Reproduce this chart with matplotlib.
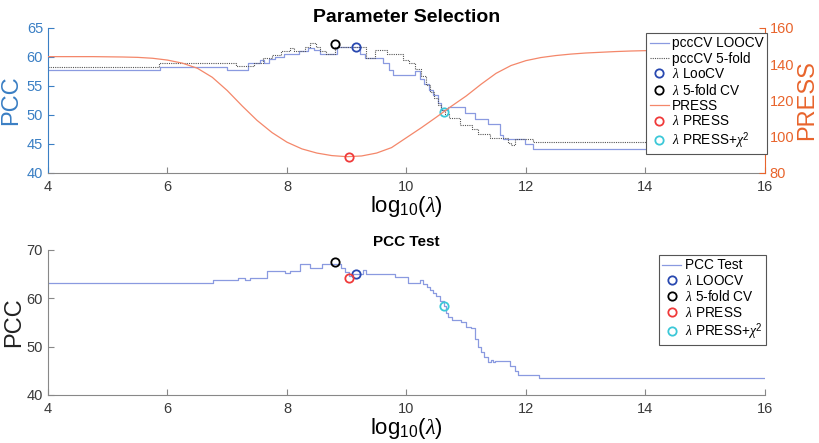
import matplotlib
matplotlib.use("Agg")
from matplotlib import pyplot as plt

plt.rcParams['font.family'] = ['Liberation Sans', 'DejaVu Sans']
plt.rcParams['mathtext.fontset'] = 'custom'
plt.rcParams['mathtext.rm'] = 'Liberation Sans'
plt.rcParams['mathtext.it'] = 'Liberation Serif:italic'
plt.rcParams['mathtext.bf'] = 'Liberation Sans:bold'

# top panel: cross-validated PCC (step curves, x = log10(lambda) where level changes)
loo_x = [4.0, 5.87, 7.0, 7.35, 7.55, 7.62, 7.7, 7.8, 7.95, 8.1, 8.2, 8.35, 8.45, 8.55,
         8.83, 9.22, 9.3, 9.6, 9.7, 9.78, 10.15, 10.22, 10.3, 10.38, 10.45, 10.52, 10.58,
         10.7, 10.98, 11.15, 11.36, 11.56, 11.62, 11.98, 12.12, 16.0]
loo_y = [57.8, 58.3, 57.8, 59.0, 59.4, 59.0, 59.6, 60.0, 60.6, 60.6, 61.0, 61.6, 61.2, 60.6,
         61.7, 60.6, 59.8, 59.0, 57.8, 56.9, 57.5, 56.2, 55.3, 54.3, 53.5, 52.0, 50.8,
         51.3, 50.4, 49.3, 48.4, 46.6, 45.8, 45.0, 44.2, 44.2]

kf_x = [4.0, 5.85, 7.15, 7.45, 7.6, 7.75, 7.9, 8.05, 8.12, 8.3, 8.38, 8.48, 8.55, 8.65,
        8.8, 9.33, 9.47, 9.67, 9.94, 10.05, 10.15, 10.25, 10.32, 10.4, 10.46, 10.52, 10.58,
        10.65, 10.72, 10.9, 11.1, 11.2, 11.4, 11.7, 11.75, 11.82, 12.12, 16.0]
kf_y = [58.3, 59.0, 58.4, 59.0, 59.8, 60.3, 61.0, 61.5, 61.0, 61.8, 62.4, 61.8, 61.0, 60.6,
        61.8, 59.9, 61.2, 60.5, 59.5, 59.0, 58.0, 56.8, 55.2, 54.0, 52.9, 51.8, 50.9,
        50.2, 49.4, 48.3, 47.5, 46.8, 46.0, 45.1, 44.8, 45.8, 45.4, 45.4]

# PRESS curve read every 0.25
press_x = [4.0 + 0.25 * i for i in range(49)]
press_y = [144.2, 144.2, 144.2, 144.2, 144.1, 144.0, 143.8, 143.3, 142.3, 140.6, 137.8,
           132.8, 125.5, 117.0, 109.0, 102.3, 97.0, 93.3, 91.0, 89.6, 89.0, 89.4, 91.0,
           94.0, 99.5, 105.0, 110.8, 116.8, 122.5, 129.0, 135.0, 139.3, 142.0, 143.7,
           144.8, 145.6, 146.2, 146.6, 147.0, 147.3, 147.5, 147.6, 147.7, 147.8, 147.9,
           148.0, 148.0, 148.0, 148.0]

# selected lambdas
lam_loo, pcc_loo = 9.15, 61.7
lam_kf, pcc_kf = 8.8, 62.3
lam_press, press_min = 9.04, 89.0
lam_chi, pcc_chi = 10.62, 50.6

# bottom panel: PCC on test set
test_x = [4.0, 6.77, 7.18, 7.3, 7.38, 7.66, 7.97, 8.05, 8.22, 8.38, 8.58, 8.9, 8.97, 9.03,
          9.1, 9.28, 9.33, 9.8, 10.02, 10.23, 10.28, 10.34, 10.4, 10.45, 10.5, 10.56, 10.62,
          10.66, 10.7, 10.76, 10.92, 11.0, 11.08, 11.15, 11.2, 11.25, 11.3, 11.37, 11.42,
          11.45, 11.48, 11.73, 11.82, 11.87, 12.22, 16.0]
test_y = [63.1, 63.7, 64.2, 63.7, 64.2, 65.7, 65.2, 65.7, 67.0, 66.3, 67.0, 66.2, 65.5, 64.6,
          65.0, 65.8, 65.1, 64.5, 63.2, 63.8, 63.0, 62.4, 61.8, 61.2, 60.5, 59.5, 58.5,
          57.0, 56.2, 55.5, 55.2, 54.1, 53.8, 51.5, 50.0, 48.8, 47.8, 46.8, 47.2,
          46.8, 47.0, 46.0, 45.0, 44.1, 43.5, 43.5]
test_marks = {'loo': (9.15, 65.0), 'kf': (8.8, 67.6), 'press': (9.04, 64.3), 'chi': (10.62, 58.5)}

c_blue_axis = '#3a7fc4'
c_orange_axis = '#e8642c'
c_line = '#8a9ae0'
c_press = '#f4876a'
c_m_blue = '#2848b0'
c_m_red = '#f03a3a'
c_m_cyan = '#3cc8d8'
c_gray = '#3a3a3a'
lam = r'$\lambda$'
mk = dict(mfc='none', ms=6, mew=1.3, ls='none', marker='o')
leg_kw = dict(loc='upper right', fontsize=9.8, handlelength=1.4, handletextpad=0.25,
              labelspacing=0.1, borderpad=0.25, borderaxespad=0, fancybox=False,
              framealpha=1, edgecolor='#555555')

fig = plt.figure(figsize=(8.2, 4.43), dpi=100)
ax1 = fig.add_axes([0.0585, 0.6095, 0.8744, 0.3273])
ax2 = ax1.twinx()

h1, = ax1.step(loo_x, loo_y, where='post', color=c_line, lw=0.9, label='pccCV LOOCV')
h2, = ax1.step(kf_x, kf_y, where='post', color='#555555', lw=0.8, ls=(0, (1, 1)),
               label='pccCV 5-fold')
h3, = ax1.plot(lam_loo, pcc_loo, mec=c_m_blue, label=lam + ' LooCV', **mk)
h4, = ax1.plot(lam_kf, pcc_kf, mec='black', label=lam + ' 5-fold CV', **mk)
h5, = ax2.plot(press_x, press_y, color=c_press, lw=0.9, label='PRESS')
h6, = ax2.plot(lam_press, press_min, mec=c_m_red, label=lam + ' PRESS', **mk)
h7, = ax1.plot(lam_chi, pcc_chi, mec=c_m_cyan, label=lam + r' PRESS+$\chi^2$', **mk)

ax1.set_xlim(4, 16)
ax1.set_ylim(40, 65)
ax2.set_ylim(80, 160)
ax1.set_xticks(range(4, 17, 2))
ax1.set_yticks(range(40, 66, 5))
ax2.set_yticks(range(80, 161, 20))
for ax in (ax1, ax2):
    ax.spines['top'].set_visible(False)
    ax.tick_params(direction='in', length=4, width=0.8, labelsize=10.5)
ax1.spines['left'].set_color(c_blue_axis)
ax1.spines['right'].set_visible(False)
ax2.spines['left'].set_visible(False)
ax2.spines['right'].set_color(c_orange_axis)
ax1.spines['bottom'].set_color('#888888')
ax2.spines['bottom'].set_visible(False)
ax1.tick_params(axis='y', colors=c_blue_axis)
ax1.tick_params(axis='x', colors='#888888', labelcolor=c_gray, pad=5)
ax2.tick_params(axis='y', colors=c_orange_axis)
ax1.set_ylabel('PCC', color=c_blue_axis, fontsize=17, labelpad=3)
ax2.set_ylabel('PRESS', color=c_orange_axis, fontsize=17, labelpad=1)
ax1.set_xlabel(r'log$_{10}$($\lambda$)', fontsize=16, labelpad=0)
ax1.set_title('Parameter Selection', fontsize=14, fontweight='bold', pad=4)
leg = ax2.legend(handles=[h1, h2, h3, h4, h5, h6, h7], bbox_to_anchor=(1.003, 0.965),
                 **leg_kw)
leg.get_frame().set_linewidth(0.8)

ax3 = fig.add_axes([0.0585, 0.1084, 0.8744, 0.3273])
g1, = ax3.step(test_x, test_y, where='post', color=c_line, lw=0.9, label='PCC Test')
g2, = ax3.plot(*test_marks['loo'], mec=c_m_blue, label=lam + ' LOOCV', **mk)
g3, = ax3.plot(*test_marks['kf'], mec='black', label=lam + ' 5-fold CV', **mk)
g4, = ax3.plot(*test_marks['press'], mec=c_m_red, label=lam + ' PRESS', **mk)
g5, = ax3.plot(*test_marks['chi'], mec=c_m_cyan, label=lam + r' PRESS+$\chi^2$', **mk)
ax3.set_xlim(4, 16)
ax3.set_ylim(40, 70)
ax3.set_xticks(range(4, 17, 2))
ax3.set_yticks(range(40, 71, 10))
ax3.spines['top'].set_visible(False)
ax3.spines['right'].set_visible(False)
for s in ('left', 'bottom'):
    ax3.spines[s].set_color('#888888')
ax3.tick_params(direction='in', length=4, width=0.8, labelsize=10.5, colors='#888888',
                labelcolor=c_gray)
ax3.tick_params(axis='x', pad=5)
ax3.set_ylabel('PCC', fontsize=17, color='#222222', labelpad=1)
ax3.set_xlabel(r'log$_{10}$($\lambda$)', fontsize=16, labelpad=0)
ax3.set_title('PCC Test', fontsize=11, fontweight='bold', pad=3)
leg2 = ax3.legend(handles=[g1, g2, g3, g4, g5], bbox_to_anchor=(1.001, 0.965), **leg_kw)
leg2.get_frame().set_linewidth(0.8)

fig.savefig('out.png', dpi=100)
plt.close(fig)
